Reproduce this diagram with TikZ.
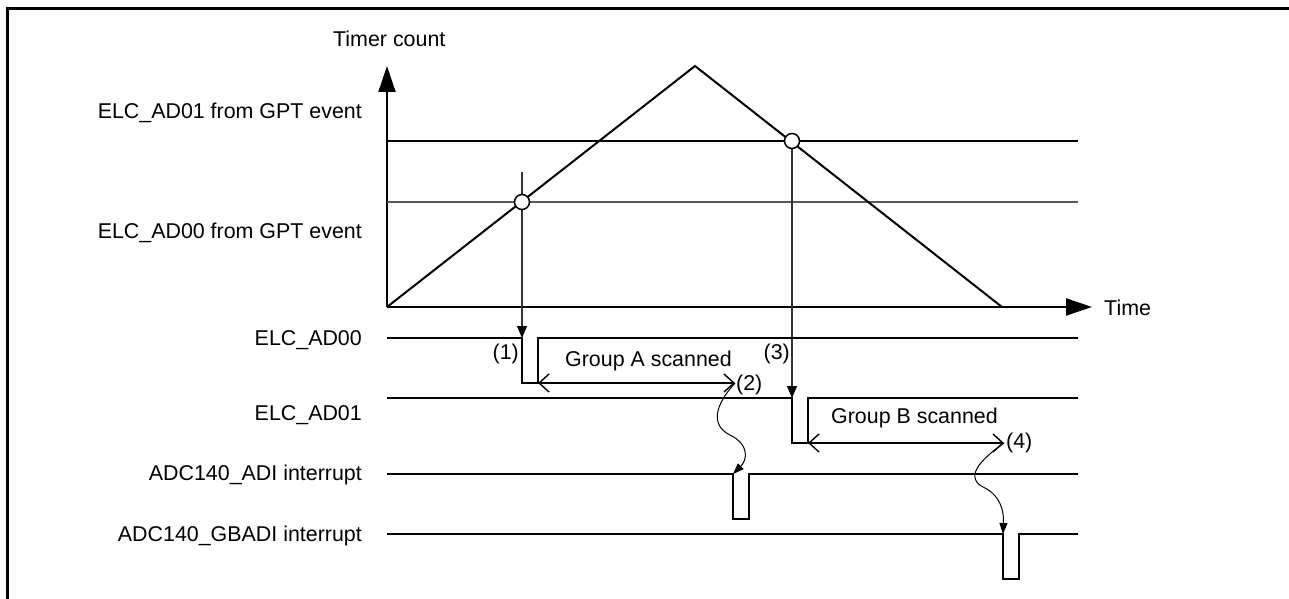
\documentclass[tikz,border=0pt]{standalone}
\usepackage{fontspec}
\setmainfont{Liberation Sans}
\usetikzlibrary{arrows.meta}
\begin{document}
\begin{tikzpicture}[x=1pt,y=-1pt,
  lbl/.style={inner sep=0pt, font=\fontsize{21.4}{25}\selectfont},
  sig/.style={line width=2pt, line join=miter},
  lvl/.style={line width=1.3pt},
  axisline/.style={line width=2pt, -{Triangle[length=26pt,width=17pt]}},
  vline/.style={line width=1.1pt, black!80, -{Triangle[length=12pt,width=10pt, color=black, fill=black]}},
  dimarrow/.style={line width=1.4pt, {Straight Barb[length=10pt,width=18pt]}-{Straight Barb[length=10pt,width=18pt]}},
  wavy/.style={line width=1pt, -{Triangle[length=11pt,width=8pt]}},
  mark circle/.style={circle, draw, fill=white, minimum size=15pt, inner sep=0pt, line width=1.5pt}
]
\useasboundingbox (0,0) rectangle (1289,599);
\clip (0,0) rectangle (1289,599);
% frame
\coordinate (fbl) at (7.5,620);
\coordinate (ftl) at (7.5,8.5);
\coordinate (ftr) at (1310,8.5);
\draw[line width=3pt] (fbl) -- (ftl) -- (ftr);

% axes
\coordinate (O) at (387,307);
\coordinate (Ytip) at (387,66);
\coordinate (Xtip) at (1092,307);
\coordinate (P) at (695,66);
\coordinate (E) at (1002,307);
\draw[axisline] (O) -- (Ytip);
\draw[axisline] (O) -- (Xtip);

% level lines
\coordinate (L1a) at (387,141); \coordinate (L1b) at (1078,141);
\coordinate (L0a) at (387,202); \coordinate (L0b) at (1078,202);
\draw[lvl] (L1a) -- (L1b);
\draw[lvl, black!65] (L0a) -- (L0b);

% ramp
\draw[sig] (O) -- (P) -- (E);

% vertical event lines
\coordinate (v1top) at (522,172);
\coordinate (a00fall) at (522,338);
\coordinate (v2top) at (792,141);
\coordinate (a01fall) at (792,398);
\draw[vline] (v1top) -- (a00fall);
\draw[vline] (v2top) -- (a01fall);

% circles
\node[mark circle] (c1) at (522,202) {};
\node[mark circle] (c2) at (792,141) {};

% ELC_AD00 signal
\coordinate (s0a) at (387,338);
\coordinate (s0l) at (522,383);
\coordinate (s0r) at (538,383);
\coordinate (s0e) at (1078,338);
\draw[sig] (s0a) -- (a00fall) -- (s0l) -- (s0r) -- (538,338) -- (s0e);
\coordinate (a2) at (735,383);
\draw[dimarrow] (s0r) -- (a2);

% ELC_AD01 signal
\coordinate (s1a) at (387,398);
\coordinate (s1l) at (792,443);
\coordinate (s1r) at (808,443);
\coordinate (s1e) at (1078,398);
\draw[sig] (s1a) -- (a01fall) -- (s1l) -- (s1r) -- (808,398) -- (s1e);
\coordinate (a4) at (1004,443);
\draw[dimarrow] (s1r) -- (a4);

% ADI interrupt
\coordinate (s2a) at (387,474);
\coordinate (adifall) at (733,474);
\coordinate (s2e) at (1078,474);
\draw[sig] (s2a) -- (adifall) -- (733,519) -- (749,519) -- (749,474) -- (s2e);

% GBADI interrupt
\coordinate (s3a) at (387,534);
\coordinate (gbfall) at (1003,534);
\coordinate (s3e) at (1078,534);
\draw[sig] (s3a) -- (gbfall) -- (1003,579) -- (1019,579) -- (1019,534) -- (s3e);

% wavy arrows
\draw[wavy] (a2) .. controls (715,405) and (710,425) .. (730,435) .. controls (750,445) and (747,460) .. (adifall);
\draw[wavy] (a4) .. controls (980,460) and (963,478) .. (985,488) .. controls (1000,496) and (1004,510) .. (gbfall);

% labels
\node[lbl, anchor=base west] (tc) at (333,46.5) {Timer count};
\node[lbl, anchor=base west] (tm) at (1104,315) {Time};
\node[lbl, anchor=base east] (l1) at (362,118.5) {ELC\_AD01 from GPT event};
\node[lbl, anchor=base east] (l0) at (362,238.5) {ELC\_AD00 from GPT event};
\node[lbl, anchor=base east] (n0) at (362,345.5) {ELC\_AD00};
\node[lbl, anchor=base east] (n1) at (362,420.5) {ELC\_AD01};
\node[lbl, anchor=base east] (n2) at (362,480.5) {ADC140\_ADI interrupt};
\node[lbl, anchor=base east] (n3) at (362,541.5) {ADC140\_GBADI interrupt};
\node[lbl, anchor=base east] (p1) at (519,359) {(1)};
\node[lbl, anchor=base east] (p3) at (790,359) {(3)};
\node[lbl, anchor=base west] (p2) at (736,390) {(2)};
\node[lbl, anchor=base west] (p4) at (1006,448) {(4)};
\node[lbl, anchor=base west] (ga) at (565,366) {Group A scanned};
\node[lbl, anchor=base west] (gb) at (831,423) {Group B scanned};
\end{tikzpicture}
\end{document}
